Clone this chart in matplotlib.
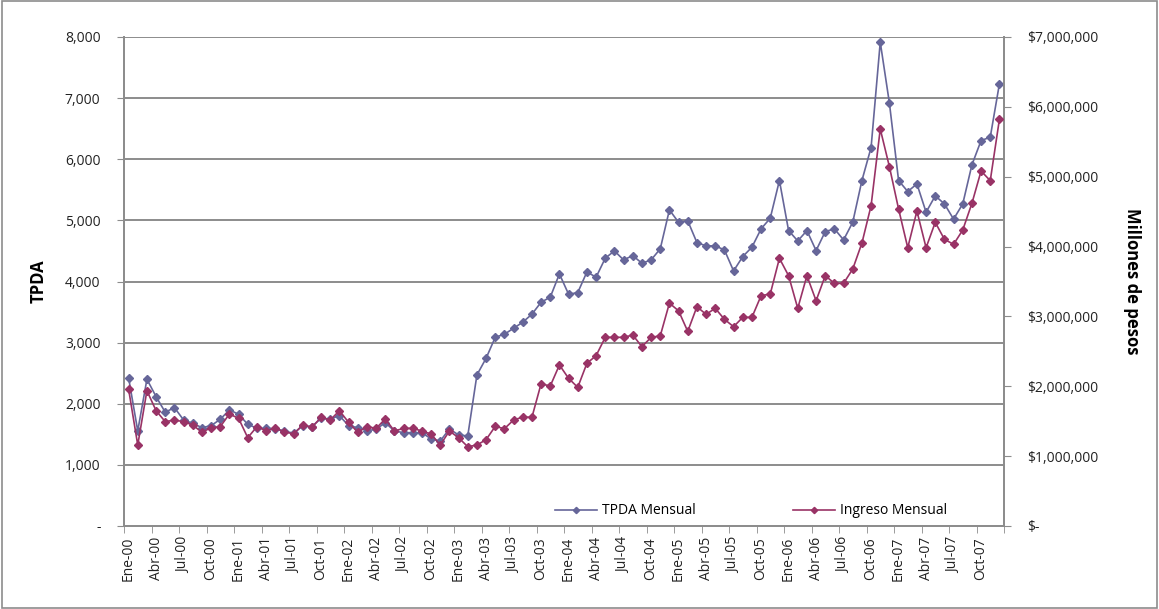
import numpy as np
import matplotlib
matplotlib.use("Agg")
import matplotlib.pyplot as plt
from matplotlib.ticker import FuncFormatter, FixedLocator
from matplotlib.patches import Rectangle

plt.rcParams['font.family'] = ['Open Sans', 'DejaVu Sans']

# monthly labels Ene-00 .. Dic-07
meses = ['Ene', 'Feb', 'Mar', 'Abr', 'May', 'Jun', 'Jul', 'Ago', 'Sep', 'Oct', 'Nov', 'Dic']
years = ['00', '01', '02', '03', '04', '05', '06', '07']
months = [m + '-' + y for y in years for m in meses]

tpda = [2427, 1555, 2401, 2116, 1861, 1937, 1735, 1680, 1609, 1641, 1746, 1899,
        1828, 1664, 1599, 1599, 1588, 1555, 1517, 1641, 1625, 1763, 1751, 1805,
        1641, 1609, 1560, 1582, 1691, 1555, 1527, 1527, 1527, 1424, 1391, 1588,
        1489, 1473, 2471, 2744, 3088, 3137, 3235, 3334, 3465, 3661, 3743, 4124,
        3792, 3818, 4157, 4070, 4381, 4501, 4353, 4424, 4299, 4353, 4534, 5172,
        4967, 4992, 4637, 4583, 4583, 4517, 4173, 4408, 4561, 4861, 5036, 5652,
        4833, 4664, 4833, 4506, 4817, 4861, 4681, 4970, 5652, 6192, 7916, 6918,
        5652, 5472, 5597, 5134, 5401, 5270, 5020, 5270, 5908, 6306, 6361, 7234]

ingreso = [1.961, 1.159, 1.937, 1.651, 1.493, 1.517, 1.493, 1.446, 1.341, 1.407, 1.422, 1.603,
           1.541, 1.264, 1.422, 1.364, 1.398, 1.350, 1.317, 1.446, 1.413, 1.556, 1.517, 1.651,
           1.484, 1.341, 1.422, 1.398, 1.532, 1.360, 1.398, 1.398, 1.360, 1.317, 1.159, 1.360,
           1.264, 1.135, 1.159, 1.236, 1.426, 1.393, 1.517, 1.560, 1.556, 2.036, 2.004, 2.305,
           2.114, 1.985, 2.329, 2.438, 2.701, 2.701, 2.701, 2.734, 2.567, 2.700, 2.722, 3.190,
           3.080, 2.786, 3.139, 3.030, 3.116, 2.959, 2.853, 2.987, 2.987, 3.297, 3.321, 3.832,
           3.583, 3.116, 3.583, 3.225, 3.583, 3.474, 3.474, 3.679, 4.050, 4.585, 5.683, 5.143,
           4.538, 3.984, 4.509, 3.984, 4.347, 4.104, 4.032, 4.237, 4.619, 5.082, 4.943, 5.822]
ingreso = [v * 1e6 for v in ingreso]

blue = '#666699'
pink = '#993366'
grid = '#8c8c8c'

fig = plt.figure(figsize=(11.59, 6.09), dpi=100)
ax = fig.add_axes([124 / 1159, 1 - 526 / 609, (1004 - 124) / 1159, (526 - 37) / 609])
ax2 = ax.twinx()

x = np.arange(len(months))
l1, = ax.plot(x, tpda, color=blue, marker='D', markersize=4, linewidth=1.2,
              label='TPDA Mensual', zorder=3)
l2, = ax2.plot(x, ingreso, color=pink, marker='D', markersize=4, linewidth=1.2,
               label='Ingreso Mensual', zorder=3)

ax.set_xlim(-0.5, len(months) - 0.5)
ax.set_ylim(0, 8000)
ax2.set_ylim(0, 7e6)

# horizontal gridlines from left axis
for v in range(1000, 8001, 1000):
    ax.axhline(v, color=grid, linewidth=1.4, zorder=1)

# x ticks: labels at category centres, marks on boundaries
ax.xaxis.set_major_locator(FixedLocator(x[::3]))
ax.set_xticklabels(months[::3], rotation=90, fontsize=10, color='#222222')
ax.tick_params(axis='x', which='major', length=0, pad=8)
ax.xaxis.set_minor_locator(FixedLocator(np.arange(-0.5, len(months), 3)))
ax.tick_params(axis='x', which='minor', length=5, color=grid, direction='out')

ax.set_yticks(range(0, 8001, 1000))
ax.yaxis.set_major_formatter(FuncFormatter(lambda v, p: '-' if v == 0 else f'{int(v):,}'))
ax.tick_params(axis='y', length=5, color=grid, labelsize=10, pad=12, labelcolor='#222222')

ax2.set_yticks(np.arange(0, 7.01e6, 1e6))
ax2.yaxis.set_major_formatter(FuncFormatter(lambda v, p: '$-' if v == 0 else f'${int(v):,}'))
ax2.tick_params(axis='y', length=5, color=grid, labelsize=10, pad=12, labelcolor='#222222')

for a in (ax, ax2):
    a.spines['top'].set_visible(False)
    for s in ('left', 'right', 'bottom'):
        a.spines[s].set_color(grid)
        a.spines[s].set_linewidth(1.3)

ax.set_ylabel('TPDA', fontsize=12, fontweight='bold', labelpad=12)
ax2.set_ylabel('Millones de pesos', fontsize=12, fontweight='bold', rotation=270,
               labelpad=30)

ax2.legend([l1, l2], ['TPDA Mensual', 'Ingreso Mensual'], loc='lower right',
           bbox_to_anchor=(0.95, -0.01), ncol=2, frameon=False, fontsize=10,
           columnspacing=7, handlelength=3, handletextpad=0.4, markerscale=0.8)

fig.patches.append(Rectangle((0.002, 0.002), 0.996, 0.996, transform=fig.transFigure,
                             fill=False, edgecolor='#8c8c8c', linewidth=1.2))

fig.savefig('out.png', dpi=100)
